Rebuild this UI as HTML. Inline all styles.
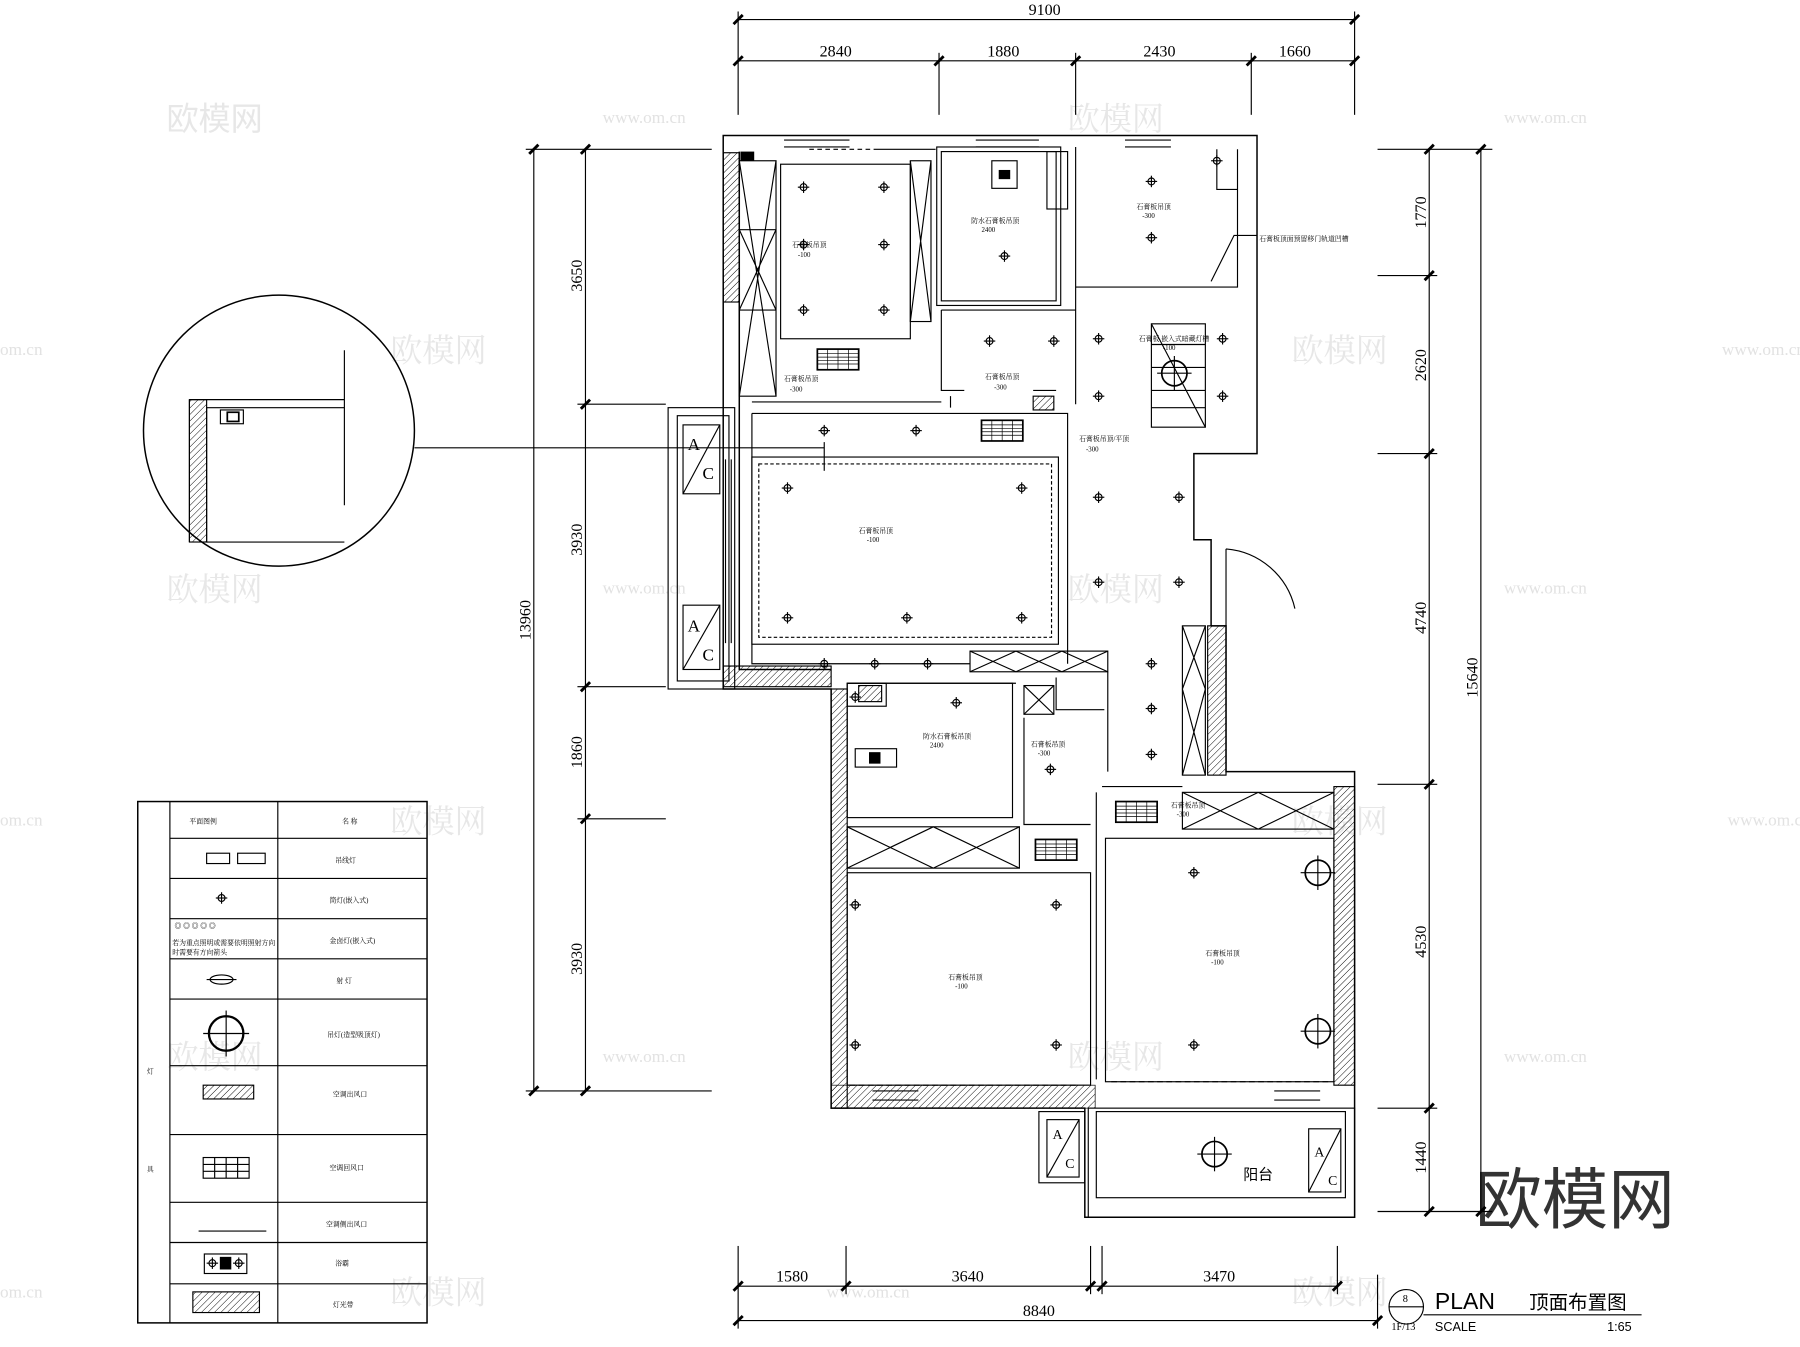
<!DOCTYPE html>
<html><head><meta charset="utf-8"><style>
html,body{margin:0;padding:0;background:#fff;}
svg{display:block}
text{font-family:"Liberation Serif","Noto Serif CJK SC",serif;fill:#000}
.c{font-family:"Liberation Sans","Noto Sans CJK SC",sans-serif;}
</style></head><body>
<svg width="1800" height="1347" viewBox="0 0 1568 1173" preserveAspectRatio="none" xmlns="http://www.w3.org/2000/svg">
<defs>
<pattern id="h" width="4" height="4" patternUnits="userSpaceOnUse" patternTransform="rotate(45)"><line x1="0" y1="0" x2="0" y2="4" stroke="#000" stroke-width="0.8"/></pattern>
<g id="L"><circle r="3" fill="none" stroke="#000" stroke-width="1"/><line x1="-5" y1="0" x2="5" y2="0" stroke="#000"/><line x1="0" y1="-5" x2="0" y2="5" stroke="#000"/></g>
<g id="B"><circle r="11" fill="none" stroke="#000" stroke-width="1.5"/><line x1="-15" y1="0" x2="15" y2="0" stroke="#000"/><line x1="0" y1="-15" x2="0" y2="15" stroke="#000"/></g>
<g id="V"><rect x="-18" y="-9" width="36" height="18" fill="#fff" stroke="#000" stroke-width="1.5"/><g stroke="#000" stroke-width="0.6"><line x1="-18" y1="-5" x2="18" y2="-5"/><line x1="-18" y1="-2" x2="18" y2="-2"/><line x1="-18" y1="1" x2="18" y2="1"/><line x1="-18" y1="4" x2="18" y2="4"/><line x1="-9" y1="-9" x2="-9" y2="9"/><line x1="0" y1="-9" x2="0" y2="9"/><line x1="9" y1="-9" x2="9" y2="9"/></g></g>
</defs>
<!-- watermarks -->
<g fill="#ddd" font-size="28" class="c" opacity="0.8">
<text x="145" y="113" class="c" style="fill:#e2e2e2">欧模网</text><text x="930" y="113" style="fill:#e2e2e2">欧模网</text>
<text x="340" y="315" style="fill:#e2e2e2">欧模网</text><text x="1125" y="315" style="fill:#e2e2e2">欧模网</text>
<text x="145" y="523" style="fill:#e2e2e2">欧模网</text><text x="930" y="523" style="fill:#e2e2e2">欧模网</text>
<text x="340" y="725" style="fill:#e2e2e2">欧模网</text><text x="1125" y="725" style="fill:#e2e2e2">欧模网</text>
<text x="145" y="930" style="fill:#e2e2e2">欧模网</text><text x="930" y="930" style="fill:#e2e2e2">欧模网</text>
<text x="340" y="1135" style="fill:#e2e2e2">欧模网</text><text x="1125" y="1135" style="fill:#e2e2e2">欧模网</text>
</g>
<g font-size="15" style="fill:#e2e2e2" class="c">
<text x="525" y="107" style="fill:#e2e2e2">www.om.cn</text><text x="1310" y="107" style="fill:#e2e2e2">www.om.cn</text>
<text x="0" y="309" style="fill:#e2e2e2">om.cn</text><text x="1500" y="309" style="fill:#e2e2e2">www.om.cn</text>
<text x="525" y="517" style="fill:#e2e2e2">www.om.cn</text><text x="1310" y="517" style="fill:#e2e2e2">www.om.cn</text>
<text x="0" y="719" style="fill:#e2e2e2">om.cn</text><text x="1505" y="719" style="fill:#e2e2e2">www.om.cn</text>
<text x="525" y="925" style="fill:#e2e2e2">www.om.cn</text><text x="1310" y="925" style="fill:#e2e2e2">www.om.cn</text>
<text x="0" y="1130" style="fill:#e2e2e2">om.cn</text><text x="720" y="1130" style="fill:#e2e2e2">www.om.cn</text>
</g>
<text x="1285" y="1065" font-size="58" class="c" style="fill:#333">欧模网</text>

<g stroke="#000" stroke-width="1" fill="none">
<!-- dims top -->
<line x1="643" y1="17" x2="1180" y2="17"/><line x1="643" y1="10" x2="643" y2="100"/><line x1="1180" y1="10" x2="1180" y2="100"/>
<line x1="643" y1="53" x2="1180" y2="53"/>
<line x1="818" y1="46" x2="818" y2="100"/><line x1="937" y1="46" x2="937" y2="100"/><line x1="1090" y1="46" x2="1090" y2="100"/>
<!-- left -->
<line x1="465" y1="130" x2="465" y2="950"/><line x1="458" y1="130" x2="620" y2="130"/><line x1="458" y1="950" x2="620" y2="950"/>
<line x1="510" y1="130" x2="510" y2="950"/>
<line x1="503" y1="352" x2="580" y2="352"/><line x1="503" y1="598" x2="580" y2="598"/><line x1="503" y1="713" x2="580" y2="713"/>
<!-- right -->
<line x1="1245" y1="130" x2="1245" y2="1055"/><line x1="1290" y1="130" x2="1290" y2="1055"/>
<line x1="1200" y1="130" x2="1300" y2="130"/><line x1="1200" y1="240" x2="1252" y2="240"/><line x1="1200" y1="395" x2="1252" y2="395"/><line x1="1200" y1="683" x2="1252" y2="683"/><line x1="1200" y1="965" x2="1252" y2="965"/><line x1="1200" y1="1055" x2="1300" y2="1055"/>
<!-- bottom -->
<line x1="643" y1="1120" x2="1165" y2="1120"/><line x1="643" y1="1150" x2="1200" y2="1150"/>
<line x1="643" y1="1085" x2="643" y2="1157"/><line x1="737" y1="1085" x2="737" y2="1127"/><line x1="950" y1="1085" x2="950" y2="1127"/><line x1="960" y1="1085" x2="960" y2="1127"/><line x1="1165" y1="1085" x2="1165" y2="1127"/><line x1="1200" y1="1110" x2="1200" y2="1157"/>
</g>
<g stroke="#000" stroke-width="2.5">
<line x1="639" y1="21" x2="647" y2="13"/><line x1="1176" y1="21" x2="1184" y2="13"/>
<line x1="639" y1="57" x2="647" y2="49"/><line x1="814" y1="57" x2="822" y2="49"/><line x1="933" y1="57" x2="941" y2="49"/><line x1="1086" y1="57" x2="1094" y2="49"/><line x1="1176" y1="57" x2="1184" y2="49"/>
<line x1="461" y1="134" x2="469" y2="126"/><line x1="461" y1="954" x2="469" y2="946"/>
<line x1="506" y1="134" x2="514" y2="126"/><line x1="506" y1="356" x2="514" y2="348"/><line x1="506" y1="602" x2="514" y2="594"/><line x1="506" y1="717" x2="514" y2="709"/><line x1="506" y1="954" x2="514" y2="946"/>
<line x1="1241" y1="134" x2="1249" y2="126"/><line x1="1241" y1="244" x2="1249" y2="236"/><line x1="1241" y1="399" x2="1249" y2="391"/><line x1="1241" y1="687" x2="1249" y2="679"/><line x1="1241" y1="969" x2="1249" y2="961"/><line x1="1241" y1="1059" x2="1249" y2="1051"/>
<line x1="1286" y1="134" x2="1294" y2="126"/><line x1="1286" y1="1059" x2="1294" y2="1051"/>
<line x1="639" y1="1124" x2="647" y2="1116"/><line x1="733" y1="1124" x2="741" y2="1116"/><line x1="946" y1="1124" x2="954" y2="1116"/><line x1="956" y1="1124" x2="964" y2="1116"/><line x1="1161" y1="1124" x2="1169" y2="1116"/>
<line x1="639" y1="1154" x2="647" y2="1146"/><line x1="1196" y1="1154" x2="1204" y2="1146"/>
</g>
<g font-size="14">
<text x="910" y="13" text-anchor="middle">9100</text>
<text x="728" y="49" text-anchor="middle">2840</text><text x="874" y="49" text-anchor="middle">1880</text><text x="1010" y="49" text-anchor="middle">2430</text><text x="1128" y="49" text-anchor="middle">1660</text>
<text transform="translate(462,540) rotate(-90)" text-anchor="middle">13960</text>
<text transform="translate(507,240) rotate(-90)" text-anchor="middle">3650</text>
<text transform="translate(507,470) rotate(-90)" text-anchor="middle">3930</text>
<text transform="translate(507,655) rotate(-90)" text-anchor="middle">1860</text>
<text transform="translate(507,835) rotate(-90)" text-anchor="middle">3930</text>
<text transform="translate(1242,185) rotate(-90)" text-anchor="middle">1770</text>
<text transform="translate(1242,318) rotate(-90)" text-anchor="middle">2620</text>
<text transform="translate(1242,538) rotate(-90)" text-anchor="middle">4740</text>
<text transform="translate(1242,820) rotate(-90)" text-anchor="middle">4530</text>
<text transform="translate(1242,1008) rotate(-90)" text-anchor="middle">1440</text>
<text transform="translate(1287,590) rotate(-90)" text-anchor="middle">15640</text>
<text x="690" y="1116" text-anchor="middle">1580</text><text x="843" y="1116" text-anchor="middle">3640</text><text x="1062" y="1116" text-anchor="middle">3470</text>
<text x="905" y="1146" text-anchor="middle">8840</text>
</g>

<!-- outer walls -->
<g stroke="#000" stroke-width="1.3" fill="none">
<path d="M630,118 H1095 V395 H1040 V470 H1055 V545 H1068 V672 H1180 V1060 H945 V965 H724 V600 H630 Z"/>
<path d="M644,132 V352 M644,352 V583 H724"/>
</g>
<rect x="630" y="133" width="14" height="130" fill="url(#h)" stroke="#000"/>
<rect x="630" y="580" width="94" height="18" fill="url(#h)" stroke="#000"/>
<rect x="724" y="600" width="14" height="365" fill="url(#h)" stroke="#000"/>
<rect x="724" y="945" width="230" height="20" fill="url(#h)" stroke="#000" stroke-width="0.6"/>
<rect x="1162" y="685" width="18" height="260" fill="url(#h)" stroke="#000"/>
<rect x="1052" y="545" width="16" height="130" fill="url(#h)" stroke="#000"/>
<rect x="645" y="132" width="12" height="8" fill="#000"/>
<g stroke="#000" fill="none" stroke-width="1">
<!-- interior walls -->
<rect x="644" y="140" width="32" height="205"/><path d="M644,140 L676,345 M676,140 L644,345 M644,200 H676 M644,270 H676 M644,200 L676,270 M676,200 L644,270"/>
<rect x="793" y="140" width="18" height="140"/><path d="M793,140 L811,280 M811,140 L793,280"/>
<rect x="680" y="143" width="113" height="152"/>
<rect x="820" y="132" width="100" height="130"/><rect x="816" y="128" width="108" height="138"/>
<rect x="912" y="132" width="18" height="50"/>
<path d="M937,128 V352 M937,250 H1078 V130 M1060,130 V165 H1078"/>
<path d="M820,270 H937 M820,270 V340 H840 M655,350 H820 M828,345 V355 M900,340 H920"/>
<path d="M655,360 H930 V578 M655,360 V578 H845"/>
<rect x="655" y="398" width="267" height="163"/><rect x="661" y="404" width="255" height="151" stroke-dasharray="3,2"/>
<rect x="845" y="567" width="120" height="18"/><path d="M845,567 L885,585 M885,567 L845,585 M885,567 L925,585 M925,567 L885,585 M925,567 L965,585 M965,567 L925,585"/>
<path d="M965,585 V672 M920,590 V618 H962 M885,595 H738"/>
<rect x="738" y="595" width="144" height="117"/><rect x="738" y="595" width="34" height="20"/><rect x="892" y="597" width="26" height="25"/>
<path d="M892,597 L918,622 M918,597 L892,622"/>
<path d="M892,625 V718 H950 M955,690 V940"/>
<rect x="738" y="720" width="150" height="36"/><path d="M738,720 L813,756 M813,720 L738,756 M813,720 L888,756 M888,720 L813,756"/>
<rect x="738" y="760" width="212" height="185"/>
<rect x="963" y="730" width="199" height="212"/>
<rect x="1030" y="690" width="132" height="32"/><path d="M1030,690 L1096,722 M1096,690 L1030,722 M1096,690 L1162,722 M1162,690 L1096,722"/>
<path d="M960,685 H1030"/>
<rect x="1030" y="545" width="20" height="130"/><path d="M1030,545 L1050,600 M1050,545 L1030,600 M1030,600 L1050,675 M1050,600 L1030,675"/>
<!-- door -->
<path d="M1068,478 V545 M1068,478 A67,67 0 0 1 1128,530"/>
<!-- balconies -->
<rect x="582" y="355" width="58" height="245"/><rect x="590" y="362" width="45" height="231"/>
<rect x="595" y="370" width="32" height="60"/><path d="M595,430 L627,370"/>
<rect x="595" y="527" width="32" height="56"/><path d="M595,583 L627,527"/>
<path d="M632,400 V560 M637,400 V560"/>
<rect x="905" y="968" width="40" height="62"/><rect x="912" y="975" width="28" height="50"/><path d="M912,1025 L940,975"/>
<rect x="955" y="968" width="217" height="75"/><rect x="948" y="965" width="232" height="95"/>
<rect x="1140" y="983" width="28" height="55"/><path d="M1140,1038 L1168,983"/>
<!-- windows -->
<path d="M683,122 H740 M683,128 H740 M850,122 H905 M850,128 H905 M980,122 H1020 M980,128 H1020 M760,950 H800 M760,958 H800 M1110,950 H1150 M1110,958 H1150"/>
<path d="M705,130 H815 M765,130 H815" stroke-dasharray="4,3"/>
<path d="M740,945 H940 M968,942 H1160" stroke-dasharray="5,3"/>
<rect x="1003" y="282" width="47" height="90"/><path d="M1003,282 L1050,372 M1003,300 H1050 M1003,320 H1050 M1003,340 H1050 M1003,355 H1050"/>
<path d="M1055,245 L1075,205 H1095"/>
<!-- callout -->
<circle cx="243" cy="375" r="118" stroke-width="1.3"/>
<line x1="361" y1="390" x2="718" y2="390"/><line x1="718" y1="385" x2="718" y2="410"/>
<path d="M165,348 H300 M165,348 V472 M180,355 H300 V340 M180,355 V472 M300,305 V440"/>
<rect x="165" y="348" width="15" height="124" fill="url(#h)"/>
<rect x="192" y="357" width="20" height="12"/>
<path d="M180,472 H300"/>
</g>
<g fill="#fff" stroke="#000" stroke-width="1.5"><rect x="198" y="359" width="10" height="8"/></g>
<!-- lights -->
<g>
<use href="#L" x="700" y="163"/><use href="#L" x="770" y="163"/><use href="#L" x="700" y="213"/><use href="#L" x="770" y="213"/><use href="#L" x="700" y="270"/><use href="#L" x="770" y="270"/>
<use href="#L" x="875" y="223"/><use href="#L" x="862" y="297"/><use href="#L" x="918" y="297"/>
<use href="#L" x="1003" y="207"/><use href="#L" x="1003" y="158"/><use href="#L" x="1060" y="140"/>
<use href="#L" x="957" y="295"/><use href="#L" x="957" y="345"/><use href="#L" x="1065" y="295"/><use href="#L" x="1065" y="345"/>
<use href="#L" x="718" y="375"/><use href="#L" x="798" y="375"/><use href="#L" x="878" y="375"/>
<use href="#L" x="686" y="425"/><use href="#L" x="890" y="425"/><use href="#L" x="686" y="538"/><use href="#L" x="790" y="538"/><use href="#L" x="890" y="538"/>
<use href="#L" x="718" y="578"/><use href="#L" x="762" y="578"/><use href="#L" x="808" y="578"/>
<use href="#L" x="957" y="433"/><use href="#L" x="1027" y="433"/><use href="#L" x="957" y="507"/><use href="#L" x="1027" y="507"/>
<use href="#L" x="1003" y="578"/><use href="#L" x="1003" y="617"/><use href="#L" x="1003" y="657"/>
<use href="#L" x="833" y="612"/><use href="#L" x="915" y="670"/><use href="#L" x="745" y="607"/>
<use href="#L" x="745" y="788"/><use href="#L" x="920" y="788"/><use href="#L" x="745" y="910"/><use href="#L" x="920" y="910"/>
<use href="#L" x="1040" y="760"/><use href="#L" x="1040" y="910"/>
<use href="#B" x="1148" y="760"/><use href="#B" x="1148" y="898"/><use href="#B" x="1023" y="325"/><use href="#B" x="1058" y="1005"/>
<use href="#V" x="730" y="313"/><use href="#V" x="873" y="375"/><use href="#V" x="920" y="740"/><use href="#V" x="990" y="707"/>
</g>
<rect x="864" y="140" width="22" height="24" fill="none" stroke="#000"/><rect x="870" y="148" width="10" height="8" fill="#000"/>
<rect x="745" y="652" width="36" height="16" fill="none" stroke="#000"/><rect x="757" y="655" width="10" height="10" fill="#000"/>
<rect x="900" y="345" width="18" height="12" fill="url(#h)" stroke="#000"/><rect x="748" y="597" width="20" height="14" fill="url(#h)" stroke="#000"/>
<!-- small labels -->
<g font-size="6" class="c">
<text x="690" y="215">石膏板吊顶</text><text x="695" y="224">-100</text>
<text x="846" y="194">防水石膏板吊顶</text><text x="855" y="202">2400</text>
<text x="990" y="182">石膏板吊顶</text><text x="995" y="190">-300</text>
<text x="1097" y="210">石膏板顶面预留移门轨道凹槽</text>
<text x="992" y="297">石膏板 嵌入式暗藏灯槽</text><text x="1013" y="305">-100</text>
<text x="683" y="332">石膏板吊顶</text><text x="688" y="341">-300</text>
<text x="858" y="330">石膏板吊顶</text><text x="866" y="339">-300</text>
<text x="940" y="384">石膏板吊顶/平顶</text><text x="946" y="393">-300</text>
<text x="748" y="464">石膏板吊顶</text><text x="755" y="472">-100</text>
<text x="804" y="643">防水石膏板吊顶</text><text x="810" y="651">2400</text>
<text x="898" y="650">石膏板吊顶</text><text x="904" y="658">-300</text>
<text x="1020" y="703">石膏板吊顶</text><text x="1025" y="711">-300</text>
<text x="826" y="853">石膏板吊顶</text><text x="832" y="861">-100</text>
<text x="1050" y="832">石膏板吊顶</text><text x="1055" y="840">-100</text>
</g>
<g font-size="15"><text x="599" y="392">A</text><text x="612" y="417">C</text><text x="599" y="550">A</text><text x="612" y="575">C</text>
<text x="917" y="992" font-size="12">A</text><text x="928" y="1017" font-size="12">C</text><text x="1145" y="1007" font-size="12">A</text><text x="1157" y="1032" font-size="12">C</text></g>
<text x="1083" y="1027" font-size="13" class="c">阳台</text>
<!-- legend -->
<g stroke="#000" fill="none">
<rect x="120" y="698" width="252" height="454" stroke-width="1.3"/>
<line x1="148" y1="698" x2="148" y2="1152"/><line x1="242" y1="698" x2="242" y2="1152"/>
<path d="M148,730 H372 M148,765 H372 M148,800 H372 M148,835 H372 M148,870 H372 M148,928 H372 M148,988 H372 M148,1047 H372 M148,1082 H372 M148,1118 H372"/>
<rect x="180" y="743" width="20" height="9"/><rect x="207" y="743" width="24" height="9"/>
<ellipse cx="193" cy="853" rx="10" ry="4"/><line x1="180" y1="853" x2="206" y2="853"/>
<circle cx="197" cy="900" r="15" stroke-width="2"/><line x1="177" y1="900" x2="217" y2="900"/><line x1="197" y1="880" x2="197" y2="920"/>
<rect x="177" y="945" width="44" height="12" fill="url(#h)"/>
<rect x="177" y="1008" width="40" height="18"/><path d="M187,1008 V1026 M197,1008 V1026 M207,1008 V1026 M177,1014 H217 M177,1020 H217"/>
<path d="M173,1072 H232"/>
<rect x="178" y="1092" width="37" height="17"/><rect x="192" y="1095" width="9" height="10" fill="#000"/>
<rect x="168" y="1125" width="58" height="18" fill="url(#h)"/>
</g>
<use href="#L" x="193" y="782"/><use href="#L" x="185" y="1100"/><use href="#L" x="208" y="1100"/>
<g font-size="6" class="c">
<text x="165" y="717">平面图例</text><text x="298" y="717">名 称</text>
<text x="292" y="751">吊线灯</text><text x="287" y="786">筒灯(嵌入式)</text>
<text x="152" y="808">◎ ◎ ◎ ◎ ◎</text><text x="150" y="823">若为重点照明或需要依明照射方向</text><text x="150" y="831">时需要有方向箭头</text>
<text x="287" y="821">金卤灯(嵌入式)</text><text x="293" y="856">射 灯</text><text x="285" y="903">吊灯(造型吸顶灯)</text>
<text x="290" y="955">空调出风口</text><text x="287" y="1019">空调回风口</text><text x="284" y="1068">空调侧出风口</text><text x="292" y="1102">浴霸</text><text x="290" y="1138">灯光带</text>
<text x="128" y="935">灯</text><text x="128" y="1020">具</text>
</g>
<!-- title -->
<circle cx="1225" cy="1138" r="15" fill="none" stroke="#000"/><line x1="1210" y1="1138" x2="1240" y2="1138" stroke="#000"/>
<line x1="1240" y1="1145" x2="1430" y2="1145" stroke="#000"/>
<text x="1222" y="1134" font-size="9">8</text><text x="1212" y="1158" font-size="9">1F/13</text>
<text x="1250" y="1140" font-size="20" class="c">PLAN</text><text x="1332" y="1140" font-size="17" class="c">顶面布置图</text>
<text x="1250" y="1159" font-size="11" class="c">SCALE</text><text x="1400" y="1159" font-size="11" class="c">1:65</text>
</svg>
</body></html>
